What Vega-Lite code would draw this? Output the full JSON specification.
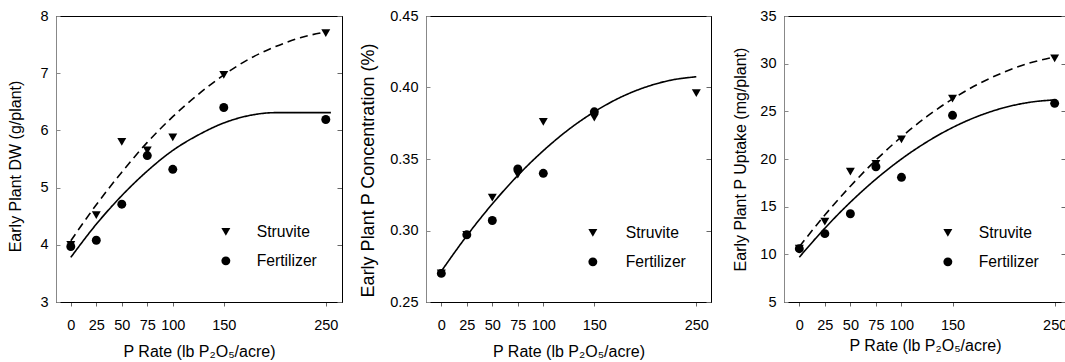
{
  "$schema": "https://vega.github.io/schema/vega-lite/v6.json",
  "padding": {"left": 7, "top": 7, "right": 0, "bottom": 0},
  "background": "white",
  "config": {
    "font": "Liberation Sans",
    "view": {"stroke": "black", "strokeWidth": 1},
    "axis": {
      "grid": false,
      "labelFont": "Liberation Sans",
      "labelFontSize": 14.5,
      "labelColor": "black",
      "labelFlush": false,
      "labelOverlap": false,
      "titleFont": "Liberation Sans",
      "titleFontSize": 16,
      "titleFontWeight": "normal",
      "titleColor": "black",
      "domainColor": "black",
      "domainWidth": 1,
      "tickColor": "#666666",
      "tickWidth": 1
    },
    "legend": {
      "orient": "none",
      "title": null,
      "labelFont": "Liberation Sans",
      "labelFontSize": 15.7,
      "labelColor": "black",
      "symbolSize": 80,
      "symbolFillColor": "black",
      "symbolStrokeColor": "black",
      "symbolStrokeWidth": 0,
      "labelOffset": 23,
      "rowPadding": 12,
      "padding": 0
    }
  },
  "datasets": {
    "points": [
      {"panel": "DW", "series": "Struvite", "rate": 0, "value": 4.0},
      {"panel": "DW", "series": "Struvite", "rate": 25, "value": 4.52},
      {"panel": "DW", "series": "Struvite", "rate": 50, "value": 5.80},
      {"panel": "DW", "series": "Struvite", "rate": 75, "value": 5.65},
      {"panel": "DW", "series": "Struvite", "rate": 100, "value": 5.88},
      {"panel": "DW", "series": "Struvite", "rate": 150, "value": 6.97},
      {"panel": "DW", "series": "Struvite", "rate": 250, "value": 7.70},
      {"panel": "DW", "series": "Fertilizer", "rate": 0, "value": 3.97},
      {"panel": "DW", "series": "Fertilizer", "rate": 25, "value": 4.08},
      {"panel": "DW", "series": "Fertilizer", "rate": 50, "value": 4.71},
      {"panel": "DW", "series": "Fertilizer", "rate": 75, "value": 5.56},
      {"panel": "DW", "series": "Fertilizer", "rate": 100, "value": 5.32},
      {"panel": "DW", "series": "Fertilizer", "rate": 150, "value": 6.40},
      {"panel": "DW", "series": "Fertilizer", "rate": 250, "value": 6.19},
      {"panel": "PC", "series": "Struvite", "rate": 0, "value": 0.270},
      {"panel": "PC", "series": "Struvite", "rate": 25, "value": 0.297},
      {"panel": "PC", "series": "Struvite", "rate": 50, "value": 0.323},
      {"panel": "PC", "series": "Struvite", "rate": 75, "value": 0.339},
      {"panel": "PC", "series": "Struvite", "rate": 100, "value": 0.376},
      {"panel": "PC", "series": "Struvite", "rate": 150, "value": 0.379},
      {"panel": "PC", "series": "Struvite", "rate": 250, "value": 0.396},
      {"panel": "PC", "series": "Fertilizer", "rate": 0, "value": 0.270},
      {"panel": "PC", "series": "Fertilizer", "rate": 25, "value": 0.297},
      {"panel": "PC", "series": "Fertilizer", "rate": 50, "value": 0.307},
      {"panel": "PC", "series": "Fertilizer", "rate": 75, "value": 0.343},
      {"panel": "PC", "series": "Fertilizer", "rate": 100, "value": 0.340},
      {"panel": "PC", "series": "Fertilizer", "rate": 150, "value": 0.383},
      {"panel": "PU", "series": "Struvite", "rate": 0, "value": 10.6},
      {"panel": "PU", "series": "Struvite", "rate": 25, "value": 13.42},
      {"panel": "PU", "series": "Struvite", "rate": 50, "value": 18.67},
      {"panel": "PU", "series": "Struvite", "rate": 75, "value": 19.5},
      {"panel": "PU", "series": "Struvite", "rate": 100, "value": 22.06},
      {"panel": "PU", "series": "Struvite", "rate": 150, "value": 26.33},
      {"panel": "PU", "series": "Struvite", "rate": 250, "value": 30.56},
      {"panel": "PU", "series": "Fertilizer", "rate": 0, "value": 10.59},
      {"panel": "PU", "series": "Fertilizer", "rate": 25, "value": 12.17},
      {"panel": "PU", "series": "Fertilizer", "rate": 50, "value": 14.26},
      {"panel": "PU", "series": "Fertilizer", "rate": 75, "value": 19.19},
      {"panel": "PU", "series": "Fertilizer", "rate": 100, "value": 18.08},
      {"panel": "PU", "series": "Fertilizer", "rate": 150, "value": 24.58},
      {"panel": "PU", "series": "Fertilizer", "rate": 250, "value": 25.84}
    ],
    "curves": [
      {"panel": "DW", "series": "Struvite", "rate": 0, "value": 4.07},
      {"panel": "DW", "series": "Struvite", "rate": 25, "value": 4.70},
      {"panel": "DW", "series": "Struvite", "rate": 50, "value": 5.27},
      {"panel": "DW", "series": "Struvite", "rate": 75, "value": 5.79},
      {"panel": "DW", "series": "Struvite", "rate": 100, "value": 6.24},
      {"panel": "DW", "series": "Struvite", "rate": 125, "value": 6.63},
      {"panel": "DW", "series": "Struvite", "rate": 150, "value": 6.97},
      {"panel": "DW", "series": "Struvite", "rate": 175, "value": 7.25},
      {"panel": "DW", "series": "Struvite", "rate": 200, "value": 7.46},
      {"panel": "DW", "series": "Struvite", "rate": 225, "value": 7.62},
      {"panel": "DW", "series": "Struvite", "rate": 250, "value": 7.72},
      {"panel": "DW", "series": "Fertilizer", "rate": 0, "value": 3.78},
      {"panel": "DW", "series": "Fertilizer", "rate": 25, "value": 4.36},
      {"panel": "DW", "series": "Fertilizer", "rate": 50, "value": 4.86},
      {"panel": "DW", "series": "Fertilizer", "rate": 75, "value": 5.29},
      {"panel": "DW", "series": "Fertilizer", "rate": 100, "value": 5.65},
      {"panel": "DW", "series": "Fertilizer", "rate": 125, "value": 5.92},
      {"panel": "DW", "series": "Fertilizer", "rate": 150, "value": 6.13},
      {"panel": "DW", "series": "Fertilizer", "rate": 175, "value": 6.26},
      {"panel": "DW", "series": "Fertilizer", "rate": 200, "value": 6.31},
      {"panel": "DW", "series": "Fertilizer", "rate": 225, "value": 6.31},
      {"panel": "DW", "series": "Fertilizer", "rate": 255, "value": 6.31},
      {"panel": "PC", "series": "Fit", "rate": 0, "value": 0.2715},
      {"panel": "PC", "series": "Fit", "rate": 25, "value": 0.2963},
      {"panel": "PC", "series": "Fit", "rate": 50, "value": 0.3186},
      {"panel": "PC", "series": "Fit", "rate": 75, "value": 0.3385},
      {"panel": "PC", "series": "Fit", "rate": 100, "value": 0.3558},
      {"panel": "PC", "series": "Fit", "rate": 125, "value": 0.3707},
      {"panel": "PC", "series": "Fit", "rate": 150, "value": 0.3830},
      {"panel": "PC", "series": "Fit", "rate": 175, "value": 0.3929},
      {"panel": "PC", "series": "Fit", "rate": 200, "value": 0.4002},
      {"panel": "PC", "series": "Fit", "rate": 225, "value": 0.4051},
      {"panel": "PC", "series": "Fit", "rate": 250, "value": 0.4075},
      {"panel": "PU", "series": "Struvite", "rate": 0, "value": 10.8},
      {"panel": "PU", "series": "Struvite", "rate": 25, "value": 14.12},
      {"panel": "PU", "series": "Struvite", "rate": 50, "value": 17.15},
      {"panel": "PU", "series": "Struvite", "rate": 75, "value": 19.89},
      {"panel": "PU", "series": "Struvite", "rate": 100, "value": 22.32},
      {"panel": "PU", "series": "Struvite", "rate": 125, "value": 24.46},
      {"panel": "PU", "series": "Struvite", "rate": 150, "value": 26.3},
      {"panel": "PU", "series": "Struvite", "rate": 175, "value": 27.85},
      {"panel": "PU", "series": "Struvite", "rate": 200, "value": 29.09},
      {"panel": "PU", "series": "Struvite", "rate": 225, "value": 30.05},
      {"panel": "PU", "series": "Struvite", "rate": 250, "value": 30.7},
      {"panel": "PU", "series": "Fertilizer", "rate": 0, "value": 9.7},
      {"panel": "PU", "series": "Fertilizer", "rate": 25, "value": 12.74},
      {"panel": "PU", "series": "Fertilizer", "rate": 50, "value": 15.47},
      {"panel": "PU", "series": "Fertilizer", "rate": 75, "value": 17.89},
      {"panel": "PU", "series": "Fertilizer", "rate": 100, "value": 20.0},
      {"panel": "PU", "series": "Fertilizer", "rate": 125, "value": 21.8},
      {"panel": "PU", "series": "Fertilizer", "rate": 150, "value": 23.3},
      {"panel": "PU", "series": "Fertilizer", "rate": 175, "value": 24.49},
      {"panel": "PU", "series": "Fertilizer", "rate": 200, "value": 25.37},
      {"panel": "PU", "series": "Fertilizer", "rate": 225, "value": 25.94},
      {"panel": "PU", "series": "Fertilizer", "rate": 250, "value": 26.2}
    ]
  },
  "spacing": 84,
  "bounds": "flush",
  "resolve": {
    "scale": {"x": "independent", "y": "independent", "shape": "independent", "strokeDash": "independent"},
    "legend": {"shape": "independent", "strokeDash": "independent"}
  },
  "hconcat": [
    {
      "width": 286,
      "height": 286,
      "layer": [
        {
          "data": {"name": "curves"},
          "transform": [{"filter": "datum.panel === 'DW'"}],
          "mark": {"type": "line", "color": "black", "strokeWidth": 1.6, "interpolate": "monotone"},
          "encoding": {
            "x": {"field": "rate", "type": "quantitative", "scale": {"domain": [-14.5, 265.9], "nice": false, "zero": false},
              "axis": {"orient": "bottom", "values": [0, 25, 50, 75, 100, 150, 250], "tickSize": 4, "labelPadding": 12, "title": "P Rate (lb P₂O₅/acre)", "titlePadding": 12}},
            "y": {"field": "value", "type": "quantitative", "scale": {"domain": [3, 8], "nice": false, "zero": false},
              "axis": {"orient": "left", "values": [3, 4, 5, 6, 7, 8], "tickSize": -4, "labelPadding": 12, "domainColor": "#888888", "tickColor": "#888888", "title": "Early Plant DW (g/plant)", "titlePadding": 16, "titleY": 150}},
            "detail": {"field": "series"},
            "strokeDash": {"field": "series", "type": "nominal", "scale": {"domain": ["Struvite", "Fertilizer", "Fit"], "range": [[8, 5], [1, 0], [1, 0]]}, "legend": null}
          }
        },
        {
          "data": {"name": "points"},
          "transform": [{"filter": "datum.panel === 'DW'"}],
          "mark": {"type": "point", "filled": true, "size": 80, "color": "black", "opacity": 1},
          "encoding": {
            "x": {"field": "rate", "type": "quantitative", "scale": {"domain": [-14.5, 265.9], "nice": false, "zero": false},
              "axis": {"orient": "top", "title": null, "labels": false, "ticks": false}},
            "y": {"field": "value", "type": "quantitative", "scale": {"domain": [3, 8], "nice": false, "zero": false},
              "axis": {"orient": "right", "title": null, "labels": false, "values": [3, 4, 5, 6, 7, 8], "tickSize": -5}},
            "shape": {"field": "series", "type": "nominal", "scale": {"domain": ["Struvite", "Fertilizer"], "range": ["triangle-down", "circle"]},
              "legend": {"legendX": 162, "legendY": 208}}
          }
        }
      ],
      "resolve": {"axis": {"x": "independent", "y": "independent"}}
    },
    {
      "spacing": 73,
      "bounds": "flush",
      "resolve": {
        "scale": {"x": "independent", "y": "independent", "shape": "independent", "strokeDash": "independent"},
        "legend": {"shape": "independent", "strokeDash": "independent"}
      },
      "hconcat": [
        {
          "width": 285,
          "height": 286,
          "layer": [
            {
              "data": {"name": "curves"},
              "transform": [{"filter": "datum.panel === 'PC'"}],
              "mark": {"type": "line", "color": "black", "strokeWidth": 1.6, "interpolate": "monotone"},
              "encoding": {
                "x": {"field": "rate", "type": "quantitative", "scale": {"domain": [-15, 264.4], "nice": false, "zero": false},
                  "axis": {"orient": "bottom", "values": [0, 25, 50, 75, 100, 150, 250], "tickSize": 4, "labelPadding": 12, "title": "P Rate (lb P₂O₅/acre)", "titlePadding": 12}},
                "y": {"field": "value", "type": "quantitative", "scale": {"domain": [0.25, 0.45], "nice": false, "zero": false},
                  "axis": {"orient": "left", "values": [0.25, 0.30, 0.35, 0.40, 0.45], "format": ".2f", "tickSize": -4, "labelPadding": 12, "domainColor": "#888888", "tickColor": "#888888", "title": "Early Plant P Concentration (%)", "titleFontSize": 18, "titlePadding": 12, "titleY": 154}},
                "detail": {"field": "series"},
                "strokeDash": {"field": "series", "type": "nominal", "scale": {"domain": ["Struvite", "Fertilizer", "Fit"], "range": [[8, 5], [1, 0], [1, 0]]}, "legend": null}
              }
            },
            {
              "data": {"name": "points"},
              "transform": [{"filter": "datum.panel === 'PC'"}],
              "mark": {"type": "point", "filled": true, "size": 80, "color": "black", "opacity": 1},
              "encoding": {
                "x": {"field": "rate", "type": "quantitative", "scale": {"domain": [-15, 264.4], "nice": false, "zero": false},
                  "axis": {"orient": "top", "title": null, "labels": false, "ticks": false}},
                "y": {"field": "value", "type": "quantitative", "scale": {"domain": [0.25, 0.45], "nice": false, "zero": false},
                  "axis": {"orient": "right", "title": null, "labels": false, "values": [0.25, 0.30, 0.35, 0.40, 0.45], "tickSize": -5}},
                "shape": {"field": "series", "type": "nominal", "scale": {"domain": ["Struvite", "Fertilizer"], "range": ["triangle-down", "circle"]},
                  "legend": {"legendX": 159, "legendY": 209, "labelOffset": 25}}
              }
            }
          ],
          "resolve": {"axis": {"x": "independent", "y": "independent"}}
        },
        {
          "width": 282,
          "height": 286,
          "layer": [
            {
              "data": {"name": "curves"},
              "transform": [{"filter": "datum.panel === 'PU'"}],
              "mark": {"type": "line", "color": "black", "strokeWidth": 1.6, "interpolate": "monotone"},
              "encoding": {
                "x": {"field": "rate", "type": "quantitative", "scale": {"domain": [-15, 261.1], "nice": false, "zero": false},
                  "axis": {"orient": "bottom", "values": [0, 25, 50, 75, 100, 150, 250], "tickSize": 4, "labelPadding": 12, "title": "P Rate (lb P₂O₅/acre)", "titlePadding": 6}},
                "y": {"field": "value", "type": "quantitative", "scale": {"domain": [5, 35], "nice": false, "zero": false},
                  "axis": {"orient": "left", "values": [5, 10, 15, 20, 25, 30, 35], "tickSize": -4, "labelPadding": 12, "domainColor": "#888888", "tickColor": "#888888", "title": "Early Plant P Uptake (mg/plant)", "titlePadding": 11}},
                "detail": {"field": "series"},
                "strokeDash": {"field": "series", "type": "nominal", "scale": {"domain": ["Struvite", "Fertilizer", "Fit"], "range": [[8, 5], [1, 0], [1, 0]]}, "legend": null}
              }
            },
            {
              "data": {"name": "points"},
              "transform": [{"filter": "datum.panel === 'PU'"}],
              "mark": {"type": "point", "filled": true, "size": 80, "color": "black", "opacity": 1},
              "encoding": {
                "x": {"field": "rate", "type": "quantitative", "scale": {"domain": [-15, 261.1], "nice": false, "zero": false},
                  "axis": {"orient": "top", "title": null, "labels": false, "ticks": false}},
                "y": {"field": "value", "type": "quantitative", "scale": {"domain": [5, 35], "nice": false, "zero": false},
                  "axis": {"orient": "right", "title": null, "labels": false, "domain": false, "values": [5, 10, 15, 20, 25, 30, 35], "tickSize": -5}},
                "shape": {"field": "series", "type": "nominal", "scale": {"domain": ["Struvite", "Fertilizer"], "range": ["triangle-down", "circle"]},
                  "legend": {"legendX": 156, "legendY": 209}}
              }
            }
          ],
          "resolve": {"axis": {"x": "independent", "y": "independent"}}
        }
      ]
    }
  ]
}
